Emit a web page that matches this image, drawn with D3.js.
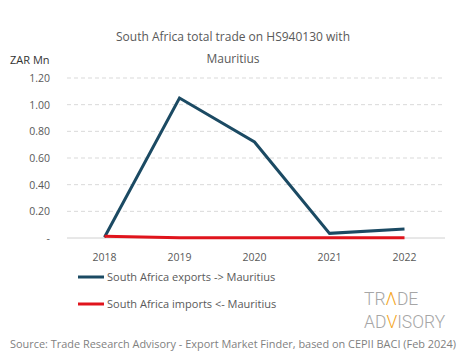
<!DOCTYPE html>
<html><head><meta charset="utf-8">
<script src="https://cdn.jsdelivr.net/npm/d3@7"></script>
<style>body{margin:0;background:#fff;} svg{display:block;font-family:"Open Sans",Lato,sans-serif;}</style>
</head><body>
<script>
const years = ["2018","2019","2020","2021","2022"];
const exportsVals = [0.005, 1.05, 0.72, 0.035, 0.068];
const importsVals = [0.013, 0.002, 0.001, 0.001, 0.001];
const yTicks = [0, 0.2, 0.4, 0.6, 0.8, 1.0, 1.2];
const yTickLabels = ["-", "0.20", "0.40", "0.60", "0.80", "1.00", "1.20"];
const seriesNames = ["South Africa exports -> Mauritius", "South Africa imports <- Mauritius"];
const seriesColors = ["#1b4a63", "#e0141c"];

const W = 465, H = 359;
const svg = d3.select("body").append("svg").attr("width", W).attr("height", H);
const x = d3.scaleBand().domain(years).range([67, 442]);
const y = d3.scaleLinear().domain([0, 1.2]).range([238, 78]);

// title
svg.append("text").attr("x", 233).attr("y", 41).attr("text-anchor","middle")
  .attr("font-size", 12).attr("fill", "#595959").text("South Africa total trade on HS940130 with");
svg.append("text").attr("x", 233).attr("y", 63).attr("text-anchor","middle")
  .attr("font-size", 12).attr("fill", "#595959").text("Mauritius");
svg.append("text").attr("x", 10).attr("y", 64).attr("font-size", 11).attr("fill", "#333").text("ZAR Mn");

// grid
const grid = svg.append("g");
yTicks.forEach((t,i) => {
  if (t > 0) grid.append("line").attr("x1", 67).attr("x2", 445).attr("y1", y(t)).attr("y2", y(t))
     .attr("stroke", "#d9d9d9").attr("stroke-width", 1).attr("stroke-dasharray", "4,3");
  grid.append("text").attr("x", 50).attr("y", y(t) + 4).attr("text-anchor", "end")
     .attr("font-size", 10.5).attr("fill", "#595959").text(yTickLabels[i]);
});
svg.append("line").attr("x1", 67).attr("x2", 445).attr("y1", y(0)).attr("y2", y(0))
  .attr("stroke", "#d0d0d0").attr("stroke-width", 1);

// x axis labels
const xAxis = d3.axisBottom(x).tickSize(0).tickPadding(0);
const gx = svg.append("g").attr("transform", `translate(0,${y(0)})`).call(xAxis);
gx.select(".domain").remove();
gx.selectAll("text").attr("dy", null).attr("y", 23).attr("font-size", 10.5)
  .attr("fill", "#595959").attr("font-family", '"Open Sans",Lato,sans-serif');

// lines
const line = d3.line().x((d,i) => x(years[i]) + x.bandwidth()/2).y(d => y(d));
[exportsVals, importsVals].forEach((vals, k) => {
  svg.append("path").datum(vals).attr("d", line).attr("fill", "none")
    .attr("stroke", seriesColors[k]).attr("stroke-width", 3).attr("stroke-linejoin", "miter");
});

// legend
[0,1].forEach(k => {
  const ly = 277 + k*27;
  svg.append("line").attr("x1", 78).attr("x2", 104).attr("y1", ly).attr("y2", ly)
    .attr("stroke", seriesColors[k]).attr("stroke-width", 3);
  svg.append("text").attr("x", 107).attr("y", ly + 4).attr("font-size", 11).attr("fill", "#595959")
    .text(seriesNames[k]);
});

// logo: pieces placed one after another
const logo = svg.append("g").attr("font-family", 'Roboto,"Liberation Sans",sans-serif')
  .attr("font-weight", 300);
function logoLine(parts, x0, yb, size, sx) {
  let cx = x0;
  parts.forEach(([txt, col]) => {
    const t = logo.append("text").attr("x", 0).attr("y", 0).attr("font-size", size)
      .attr("fill", col).text(txt);
    const w = t.node().getComputedTextLength();
    t.attr("transform", `translate(${cx},${yb}) scale(${sx},1)`);
    cx += w * sx;
  });
}
logoLine([["TR", "#a6a6a6"], ["Λ", "#f5a623"], ["DE", "#a6a6a6"]], 364, 305, 19, 0.92);
logoLine([["AD", "#a6a6a6"], ["V", "#f5a623"], ["ISORY", "#a6a6a6"]], 364, 328, 19, 0.92);

// source
svg.append("text").attr("x", 10).attr("y", 348).attr("font-size", 11).attr("fill", "#7f7f7f")
  .attr("textLength", 446).attr("lengthAdjust", "spacingAndGlyphs")
  .text("Source: Trade Research Advisory - Export Market Finder, based on CEPII BACI (Feb 2024)");
</script>
</body></html>
